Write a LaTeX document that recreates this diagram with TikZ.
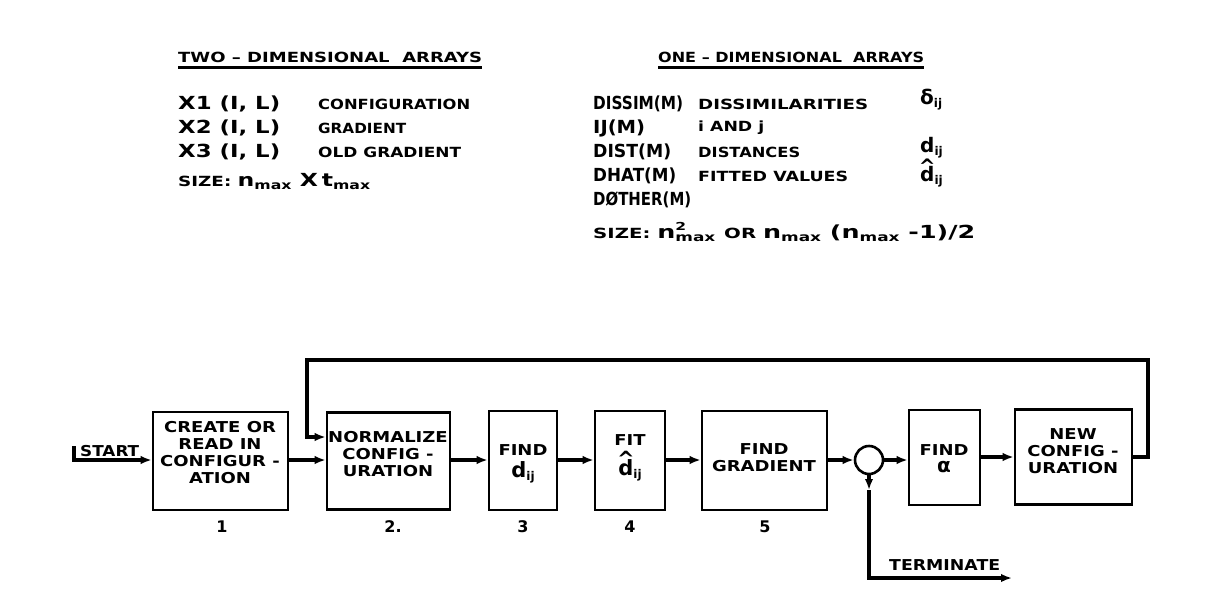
\documentclass[tikz,border=0pt]{standalone}
\usepackage{fontspec}
\setmainfont{DejaVu Sans}
\newfontfamily\lettering{DejaVu Sans}[FakeStretch=1.2]
\usetikzlibrary{arrows.meta}

% stretch a text horizontally to a given width
\newcommand\wtext[2]{\resizebox{#1}{\height}{#2}}
\newcommand\lowsub[1]{\raisebox{-3pt}{\fontsize{12}{12}\selectfont #1}}
\newcommand\nmx{n\lowsub{max}}
\newcommand\tmx{t\lowsub{max}}
\newcommand\nsqmx{n\rlap{\raisebox{8pt}{\fontsize{11}{11}\selectfont 2}}\lowsub{max}}
\newcommand\ijs{\lowsub{ij}}
% d with a hat centred over it
\newcommand\hatd{\ooalign{d\cr\hidewidth\raisebox{0.42em}{\^{}}\hidewidth\cr}}

\begin{document}
\begin{tikzpicture}[x=1pt,y=-1pt,
  lbl/.style={anchor=west, inner sep=0pt},
  big/.style={lbl, font=\fontsize{18}{20}\selectfont\bfseries},
  small/.style={lbl, font=\fontsize{14}{16}\selectfont\bfseries},
  sym/.style={lbl, font=\fontsize{20}{22}\selectfont\bfseries},
  box/.style={draw, line width=2.6pt, inner sep=0pt},
  boxtxt/.style={inner sep=0pt, align=center, font=\lettering\bfseries\fontsize{15}{17}\selectfont},
  conn/.style={line width=3.4pt},
  flow/.style={conn, -{Latex[length=11pt,width=8.5pt]}},
  num/.style={inner sep=0pt, font=\fontsize{16}{18}\selectfont\bfseries},
  rule/.style={line width=3.4pt}
]
\useasboundingbox[fill=white] (0,0) rectangle (1206,597);

% ---- two-dimensional arrays
\node[small] (hTwo) at (178,57) {\wtext{304pt}{TWO – DIMENSIONAL\ \ ARRAYS}};
\draw[rule] ([yshift=-5pt]hTwo.south west) -- ([yshift=-5pt]hTwo.south east);
\node[big] (x1) at (178,104) {\wtext{102pt}{X1 (I, L)}};
\node[small] (x1d) at (318,104) {\wtext{152pt}{CONFIGURATION}};
\node[big] (x2) at (178,128) {\wtext{102pt}{X2 (I, L)}};
\node[small] (x2d) at (318,128) {\wtext{88pt}{GRADIENT}};
\node[big] (x3) at (178,152) {\wtext{102pt}{X3 (I, L)}};
\node[small] (x3d) at (318,152) {\wtext{143pt}{OLD GRADIENT}};
\node[lbl, font=\bfseries] (sz2) at (178,182) {\wtext{192pt}{{\fontsize{14}{16}\selectfont SIZE: }\fontsize{18}{20}\selectfont\nmx\ X\,\tmx}};

% ---- one-dimensional arrays
\node[small] (hOne) at (658,57) {\wtext{266pt}{ONE – DIMENSIONAL\ \ ARRAYS}};
\draw[rule] ([yshift=-5pt]hOne.south west) -- ([yshift=-5pt]hOne.south east);
\node[big] (a1) at (593,104) {\wtext{90pt}{DISSIM(M)}};
\node[small] (a1d) at (698,104) {\wtext{170pt}{DISSIMILARITIES}};
\node[sym] (a1s) at (920,100) {δ\ijs};
\node[big] (a2) at (593,128) {\wtext{52pt}{IJ(M)}};
\node[small] (a2d) at (698,128) {\wtext{66pt}{i AND j}};
\node[big] (a3) at (593,152) {\wtext{78pt}{DIST(M)}};
\node[small] (a3d) at (698,152) {\wtext{102pt}{DISTANCES}};
\node[sym] (a3s) at (920,148) {d\ijs};
\node[big] (a4) at (593,176) {\wtext{83pt}{DHAT(M)}};
\node[small] (a4d) at (698,176) {\wtext{150pt}{FITTED VALUES}};
\node[sym] (a4s) at (920,177) {\hatd\ijs};
\node[big] (a5) at (593,200) {\wtext{98pt}{DØTHER(M)}};
\node[lbl, font=\bfseries] (sz1) at (593,232) {\wtext{382pt}{{\fontsize{14}{16}\selectfont SIZE: }\fontsize{18}{20}\selectfont\nsqmx\ {\fontsize{14}{16}\selectfont OR }\nmx\ (\nmx\ -1)/2}};

% ---- flow chart
\node[box, minimum width=135pt, minimum height=98pt] (b1) at (220.5,461) {};
\node[box, minimum width=123pt, minimum height=97pt] (b2) at (388.5,461) {};
\node[box, minimum width=68pt,  minimum height=99pt] (b3) at (523,460.5) {};
\node[box, minimum width=70pt,  minimum height=99pt] (b4) at (630,460.5) {};
\node[box, minimum width=125pt, minimum height=99pt] (b5) at (764.5,460.5) {};
\node[box, circle, minimum size=28pt] (jn) at (869,460) {};
\node[box, minimum width=71pt,  minimum height=95pt] (b6) at (944.5,457.5) {};
\node[box, minimum width=117pt, minimum height=95pt] (b7) at (1073.5,457) {};

\node[boxtxt] (t1) at (220,453) {CREATE OR\\READ IN\\CONFIGUR -\\ATION};
\node[boxtxt] (t2) at (388,454) {NORMALIZE\\CONFIG -\\URATION};
\node[boxtxt] (t3a) at (523,450) {FIND};
\node[boxtxt, font=\bfseries\fontsize{21}{22}\selectfont] (t3b) at (523,472) {d\ijs};
\node[boxtxt] (t4a) at (630,440) {FIT};
\node[boxtxt, font=\bfseries\fontsize{21}{22}\selectfont] (t4b) at (630,470) {\hatd\ijs};
\node[boxtxt] (t5) at (764,458) {FIND\\GRADIENT};
\node[boxtxt] (t6a) at (944,450) {FIND};
\node[boxtxt, font=\bfseries\fontsize{20}{22}\selectfont] (t6b) at (944,467) {α};
\node[boxtxt] (t7) at (1073,451) {NEW\\CONFIG -\\URATION};

\node[num] (n1) at (222,527) {1};
\node[num] (n2) at (393,527) {2.};
\node[num] (n3) at (523,527) {3};
\node[num] (n4) at (630,527) {4};
\node[num] (n5) at (765,527) {5};

% start
\coordinate (st) at (74,446);
\node[lbl, font=\lettering\bfseries\fontsize{15}{17}\selectfont] (stxt) at (80,451) {\wtext{59pt}{START}};
\draw[flow] (st) |- (b1.west |- jn);

% main line
\draw[flow] (b1.east |- jn) -- (b2.west |- jn);
\draw[flow] (b2.east |- jn) -- (b3.west |- jn);
\draw[flow] (b3.east |- jn) -- (b4.west |- jn);
\draw[flow] (b4.east |- jn) -- (b5.west |- jn);
\draw[flow] (b5.east |- jn) -- (jn.west);
\draw[flow] (jn.east) -- (b6.west |- jn);
\draw[flow] (b6.east |- b7) -- (b7.west);

% feedback loop
\coordinate (fbR) at (1148,360);
\coordinate (fbL) at (307,360);
\draw[flow] (b7.east) -| (fbR) -- (fbL) |- ([yshift=24pt]b2.west);

% terminate
\coordinate (tmid) at (869,490);
\coordinate (tend) at (1012,578);
\draw[flow] (jn.south) -- (tmid);
\draw[flow] (tmid) |- (tend);
\node[lbl, font=\lettering\bfseries\fontsize{15}{17}\selectfont] (term) at (889,565) {\wtext{111pt}{TERMINATE}};
\end{tikzpicture}
\end{document}
